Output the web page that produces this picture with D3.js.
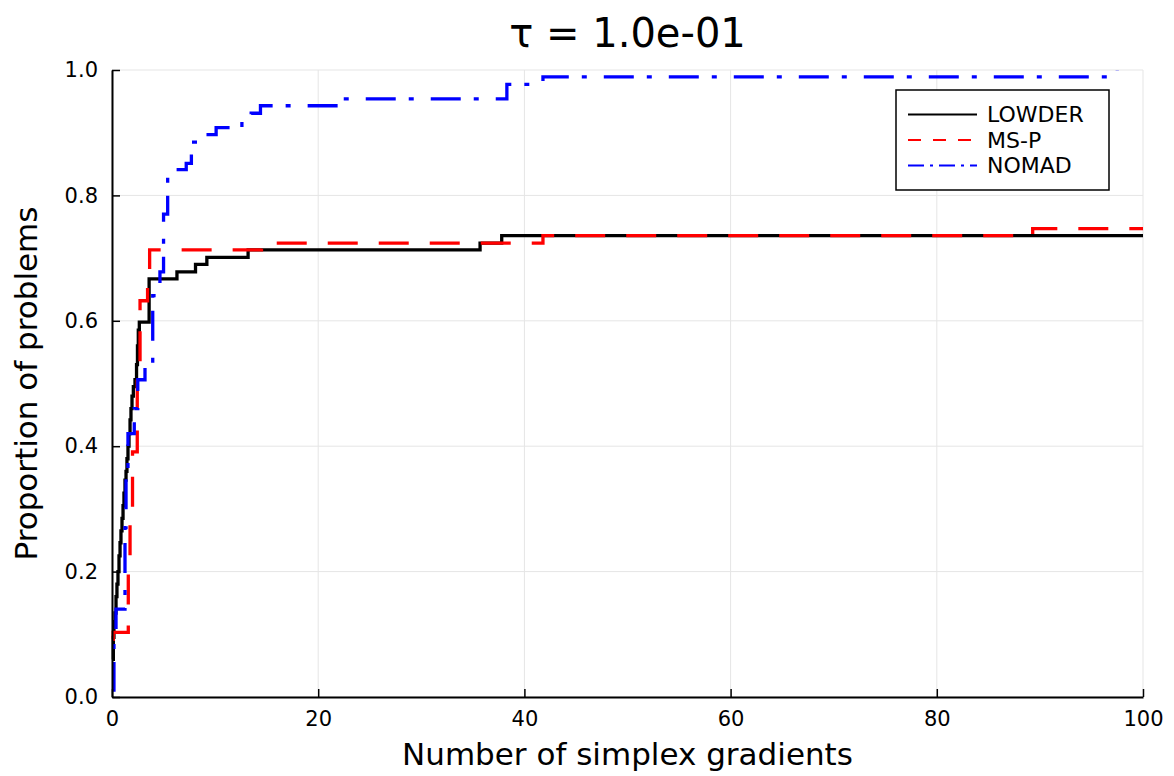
<!DOCTYPE html>
<html>
<head>
<meta charset="utf-8">
<script src="https://cdn.jsdelivr.net/npm/d3@7"></script>
<style>
  body { margin: 0; background: #fff; }
  svg { display: block; font-family: "DejaVu Sans", sans-serif; }
</style>
</head>
<body>
<svg id="fig" width="1174" height="776"></svg>
<script>
// performance profile values (step after)
const lowderX = [0, 0.13, 0.19, 0.29, 0.39, 0.48, 0.58, 0.68, 0.78, 0.87, 0.97, 1.07, 1.16, 1.26, 1.36, 1.45, 1.55, 1.65, 1.75, 1.84, 1.94, 2.07, 2.23, 2.38, 2.47, 2.55, 2.65, 3.6, 6.3, 8.1, 9.2, 13.2, 35.7, 37.8, 100];
const lowderY = [0.06, 0.095, 0.12, 0.134, 0.16, 0.18, 0.2, 0.225, 0.246, 0.265, 0.285, 0.305, 0.325, 0.346, 0.36, 0.38, 0.4, 0.42, 0.442, 0.46, 0.48, 0.495, 0.506, 0.53, 0.56, 0.585, 0.598, 0.667, 0.678, 0.69, 0.701, 0.713, 0.724, 0.736, 0.736];

const mspX = [0, 0.12, 1.58, 1.75, 1.99, 2.45, 2.72, 3.45, 3.65, 14.5, 41.8, 89.3, 100];
const mspY = [0.092, 0.103, 0.207, 0.29, 0.391, 0.517, 0.632, 0.655, 0.713, 0.724, 0.736, 0.747, 0.747];

const nomadX = [0, 0.19, 0.39, 1.26, 1.36, 1.55, 2.16, 2.5, 3.2, 3.95, 4.65, 5.0, 5.4, 7.2, 7.7, 9.0, 10.1, 12.6, 13.5, 14.4, 22.1, 38.3, 41.8, 97.5];
const nomadY = [0.011, 0.09, 0.14, 0.27, 0.36, 0.42, 0.46, 0.506, 0.53, 0.64, 0.678, 0.77, 0.841, 0.851, 0.885, 0.897, 0.908, 0.92, 0.931, 0.943, 0.954, 0.977, 0.989, 1.0];

const seriesNames = ["LOWDER", "MS-P", "NOMAD"];
const xTicks = [0, 20, 40, 60, 80, 100];
const yTicks = [0, 0.2, 0.4, 0.6, 0.8, 1.0];

const series = [
  { name: seriesNames[0], xs: lowderX, ys: lowderY, color: "#000000", dash: null, legDash: null },
  { name: seriesNames[1], xs: mspX, ys: mspY, color: "#ff0000", dash: "30,21", legDash: "13,12" },
  { name: seriesNames[2], xs: nomadX, ys: nomadY, color: "#0000ff", dash: "30,13,5,17", legDash: "16,6,3,6" }
];

let svg = d3.select("#fig");
let x = d3.scaleLinear().domain([0, 100]).range([112, 1143]);
let y = d3.scaleLinear().domain([0, 1]).range([697, 70]);

// grid
svg.append("g").selectAll("line").data(xTicks).enter().append("line")
  .attr("x1", d => x(d)).attr("x2", d => x(d)).attr("y1", y(0)).attr("y2", y(1))
  .attr("stroke", "#e5e5e5").attr("stroke-width", 1);
svg.append("g").selectAll("line").data(yTicks).enter().append("line")
  .attr("x1", x(0)).attr("x2", x(100)).attr("y1", d => y(d)).attr("y2", d => y(d))
  .attr("stroke", "#e5e5e5").attr("stroke-width", 1);

// curves
let line = d3.line().x(d => x(d[0])).y(d => y(d[1])).curve(d3.curveStepAfter);
series.forEach(s => {
  let pts = s.xs.map((v, i) => [v, s.ys[i]]);
  svg.append("path").datum(pts)
    .attr("d", line)
    .attr("fill", "none")
    .attr("stroke", s.color)
    .attr("stroke-width", 3.3)
    .attr("stroke-linejoin", "miter")
    .attr("stroke-dasharray", s.dash);
});

// axes (ticks inward, like GR)
let xAxis = d3.axisBottom(x).tickValues(xTicks).tickFormat(d3.format("d")).tickSizeInner(-8).tickSizeOuter(0).tickPadding(14);
let yAxis = d3.axisLeft(y).tickValues(yTicks).tickFormat(d3.format(".1f")).tickSizeInner(-8).tickSizeOuter(0).tickPadding(14);

let gx = svg.append("g").attr("transform", `translate(0,${y(0)})`).call(xAxis);
let gy = svg.append("g").attr("transform", `translate(${x(0)},0)`).call(yAxis);
[gx, gy].forEach(g => {
  g.select(".domain").attr("stroke", "#000").attr("stroke-width", 2);
  g.selectAll(".tick line").attr("stroke", "#000").attr("stroke-width", 1.5);
  g.selectAll(".tick text").attr("fill", "#000").style("font-size", "21px").style("font-family", "DejaVu Sans");
});
gx.selectAll(".tick text").attr("dy", "0.71em");

// labels
svg.append("text").attr("x", x(50)).attr("y", 47).attr("text-anchor", "middle")
  .style("font-size", "40px").text("τ = 1.0e-01");
svg.append("text").attr("x", x(50)).attr("y", 765).attr("text-anchor", "middle")
  .style("font-size", "31px").text("Number of simplex gradients");
svg.append("text").attr("transform", `translate(37,${y(0.5)}) rotate(-90)`).attr("text-anchor", "middle")
  .style("font-size", "31px").text("Proportion of problems");

// legend
let leg = svg.append("g");
leg.append("rect").attr("x", 896).attr("y", 90).attr("width", 213).attr("height", 100)
  .attr("fill", "#fff").attr("stroke", "#000").attr("stroke-width", 1.5);
series.forEach((s, i) => {
  let ly = 114.5 + i * 25.5;
  leg.append("line").attr("x1", 908).attr("x2", 977).attr("y1", ly).attr("y2", ly)
    .attr("stroke", s.color).attr("stroke-width", 1.8).attr("stroke-dasharray", s.legDash);
  leg.append("text").attr("x", 987).attr("y", ly).attr("dy", "0.35em")
    .style("font-size", "22px").text(s.name);
});
</script>
</body>
</html>
